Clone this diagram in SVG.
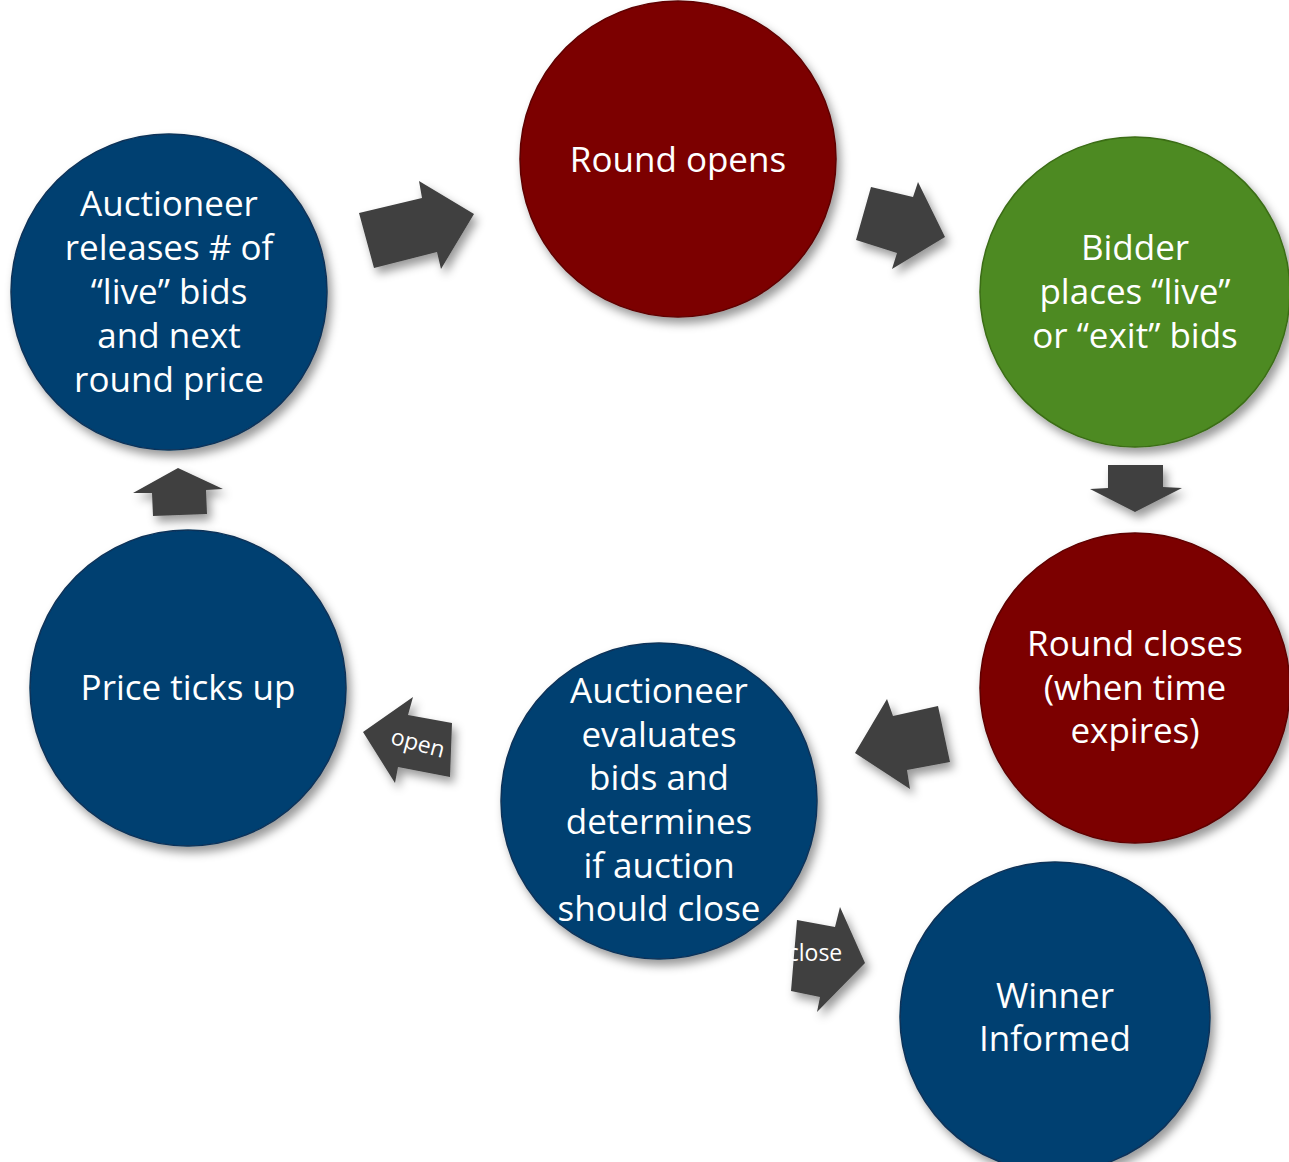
<svg xmlns="http://www.w3.org/2000/svg" width="1289" height="1162" viewBox="0 0 1289 1162">
<defs>
<filter id="sh" x="-20%" y="-20%" width="150%" height="150%">
<feDropShadow dx="4" dy="6" stdDeviation="5" flood-color="#000" flood-opacity="0.4"/>
</filter>
<style>
.red{fill:#7b0000;stroke:#5e0000;stroke-width:1.5}
.blue{fill:#063f71;stroke:#0a3358;stroke-width:1.5}
.green{fill:#4e8a21;stroke:#3b6d17;stroke-width:1.5}
.node circle{filter:url(#sh)}
.t{font-family:"Open Sans","Liberation Sans",sans-serif;font-size:35px;fill:#fff;text-anchor:middle}
.arr{fill:#404040;filter:url(#sh)}
.lbl{font-family:"Open Sans","Liberation Sans",sans-serif;font-size:23px;fill:#fff;text-anchor:middle}
</style>
</defs>
<rect width="1289" height="1162" fill="#fff"/>
<g id="connectors">
<polygon class="arr" points="359,213 422,198 419,181 474,214 441,269 437,252 374,268"/>
<polygon class="arr" points="871,187 913,197 918,182 945,237 892,269 897,253 856,240"/>
<polygon class="arr" points="1108,465 1163,465 1163,487 1182,488 1135,512 1090,489 1108,488"/>
<polygon class="arr" points="938,706 893,716 887,699 855,753 910,789 907,770 950,762"/>
<g id="open-arrow">
<polygon class="arr" points="452,723 408,715 413,697 363,732 395,783 398,767 450,777"/>
<text class="lbl" x="418" y="751" transform="rotate(15 418 743)">open</text>
</g>
<g id="close-arrow">
<polygon class="arr" points="797,920 835,927 840,907 865,963 817,1012 820,997 791,991"/>
<text class="lbl" x="815" y="961">close</text>
</g>
<polygon class="arr" points="152,493 133,493 178,468 223,489 206,490 207,514 153,516"/>
</g>
<g id="round-opens" class="node">
<circle class="red" cx="678" cy="159" r="158"/>
<text class="t" x="678" y="172">Round opens</text>
</g>
<g id="bidder" class="node">
<circle class="green" cx="1135" cy="292" r="155"/>
<text class="t" x="1135" y="260">Bidder</text>
<text class="t" x="1135" y="304">places “live”</text>
<text class="t" x="1135" y="348">or “exit” bids</text>
</g>
<g id="round-closes" class="node">
<circle class="red" cx="1135" cy="688" r="155"/>
<text class="t" x="1135" y="656">Round closes</text>
<text class="t" x="1135" y="700">(when time</text>
<text class="t" x="1135" y="743">expires)</text>
</g>
<g id="auctioneer-evaluates" class="node">
<circle class="blue" cx="659" cy="801" r="158"/>
<text class="t" x="659" y="703">Auctioneer</text>
<text class="t" x="659" y="747">evaluates</text>
<text class="t" x="659" y="790">bids and</text>
<text class="t" x="659" y="834">determines</text>
<text class="t" x="659" y="878">if auction</text>
<text class="t" x="659" y="921">should close</text>
</g>
<g id="winner" class="node">
<circle class="blue" cx="1055" cy="1017" r="155"/>
<text class="t" x="1055" y="1008">Winner</text>
<text class="t" x="1055" y="1051">Informed</text>
</g>
<g id="price-ticks" class="node">
<circle class="blue" cx="188" cy="688" r="158"/>
<text class="t" x="188" y="700">Price ticks up</text>
</g>
<g id="auctioneer-releases" class="node">
<circle class="blue" cx="169" cy="292" r="158"/>
<text class="t" x="169" y="216">Auctioneer</text>
<text class="t" x="169" y="260">releases # of</text>
<text class="t" x="169" y="304">“live” bids</text>
<text class="t" x="169" y="348">and next</text>
<text class="t" x="169" y="392">round price</text>
</g>
</svg>
